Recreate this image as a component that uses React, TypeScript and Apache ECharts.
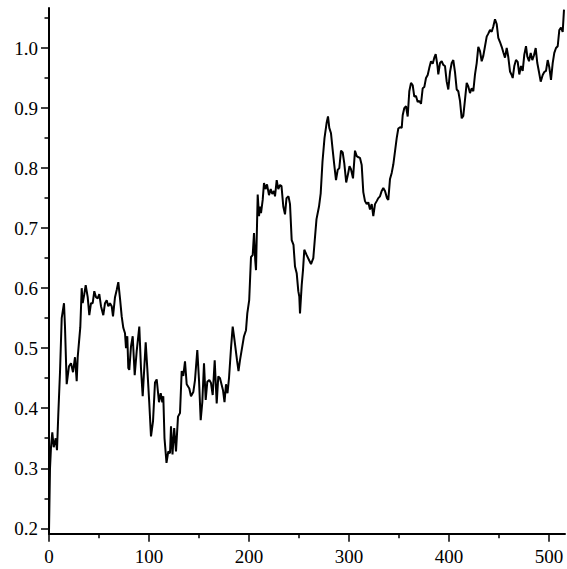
import React, { useEffect, useRef } from "react";
import * as echarts from "echarts";

const xs = [
  0, 1, 2, 3.3, 4.7, 6.7, 8, 9.3, 11, 12.7, 15, 16, 17.7, 20, 22, 24, 26, 27.7, 28.7, 30,
  31.3, 32.7, 33.7, 35.3, 36.7, 38.7, 40.3, 42, 43.7, 45.3, 47, 48.7, 50.3, 52, 54.3, 56, 57.7, 59.3, 61, 62.7,
  64, 66, 67.7, 69.3, 71, 72.7, 74.3, 76, 77, 78.3, 79.3, 80.3, 82, 83.7, 85.7, 87.7, 90.3, 92, 93.7, 96.7,
  98.3, 100.3, 102, 104, 106, 107.7, 110, 111.7, 113.3, 114.3, 115.5, 117.5, 119.3, 121, 122, 123.5, 125.2, 127, 129, 131,
  132.7, 134.3, 136, 137.7, 140.3, 142, 144.3, 146, 148.3, 150, 151.7, 153.3, 155, 156.7, 158.3, 160.3, 162, 163.7, 165.7, 167.7,
  169.3, 171, 172.5, 174, 175.5, 177, 178.5, 180, 182, 183.7, 185, 186.5, 188, 189.5, 191, 193, 195, 197, 198.3, 200.2,
  202, 203.7, 205, 206.2, 207, 208.7, 210, 211, 212, 213.7, 215, 216.5, 218, 220, 221.7, 223.3, 225, 226, 227.7, 229.3,
  231, 232.5, 234.3, 236, 237.5, 239.5, 241, 242.7, 244.5, 246, 247.7, 249.3, 250.3, 251, 252.7, 254, 255.3, 257.7, 260, 262,
  264.3, 266, 267.5, 270, 271.7, 273.5, 275.5, 277.7, 279, 280.3, 282, 283.7, 285.3, 287, 288.7, 290.3, 292, 293.7, 295.3, 297.2,
  299, 300.5, 302, 304, 306, 307.7, 309.5, 311, 312.7, 314.3, 316, 317.7, 319.3, 321, 322.7, 324.3, 326, 327.7, 329.3, 331,
  332.7, 334.3, 336, 338, 339.3, 341, 342.7, 344.3, 346, 347.7, 349.3, 351, 352.7, 353.7, 355.3, 357, 358.7, 360.3, 362, 363.7,
  365.3, 367, 368.7, 370.3, 372, 373.7, 375.3, 377, 378.7, 380.3, 382, 383.7, 385.3, 386.7, 388.5, 389.3, 391, 392.7, 394.3, 396,
  397.7, 399.3, 401, 402.7, 404.3, 406, 407.7, 409.3, 411, 412.7, 414.3, 416, 417.7, 419.3, 421, 422.7, 424.3, 426, 427.7, 429.3,
  431, 432.7, 434.3, 436, 437.7, 439.3, 441, 442.7, 444.3, 446, 447.7, 449.3, 451, 452.7, 454.3, 456, 457.7, 459.3, 461, 462.7,
  463.7, 465.3, 467, 468.7, 470.3, 472, 473.7, 475.3, 477, 478.3, 480, 481.7, 483.3, 485, 486.7, 488.3, 490, 491.7, 493.7, 495.3,
  497, 498.7, 500.3, 502, 503.7, 505.3, 507, 508.7, 510.3, 512, 513.7, 515,
];

const ys = [
  0.195, 0.30, 0.335, 0.36, 0.335, 0.35, 0.33, 0.39, 0.46, 0.55, 0.575, 0.535, 0.44, 0.47, 0.475, 0.46, 0.485, 0.445, 0.485, 0.51,
  0.535, 0.60, 0.575, 0.59, 0.605, 0.585, 0.555, 0.575, 0.575, 0.595, 0.585, 0.583, 0.59, 0.57, 0.555, 0.575, 0.58, 0.57, 0.575, 0.57,
  0.553, 0.585, 0.597, 0.61, 0.583, 0.553, 0.534, 0.525, 0.50, 0.52, 0.467, 0.464, 0.503, 0.52, 0.455, 0.495, 0.536, 0.466, 0.42, 0.51,
  0.466, 0.408, 0.353, 0.378, 0.443, 0.448, 0.41, 0.425, 0.41, 0.42, 0.35, 0.309, 0.328, 0.325, 0.37, 0.323, 0.367, 0.328, 0.386, 0.392,
  0.462, 0.454, 0.478, 0.44, 0.433, 0.42, 0.427, 0.447, 0.497, 0.447, 0.38, 0.41, 0.475, 0.414, 0.444, 0.447, 0.442, 0.422, 0.48, 0.408,
  0.453, 0.45, 0.44, 0.43, 0.41, 0.44, 0.425, 0.45, 0.50, 0.536, 0.52, 0.50, 0.48, 0.462, 0.48, 0.50, 0.52, 0.53, 0.558, 0.58,
  0.652, 0.655, 0.692, 0.647, 0.63, 0.756, 0.72, 0.736, 0.725, 0.747, 0.775, 0.765, 0.773, 0.755, 0.765, 0.757, 0.762, 0.753, 0.78, 0.765,
  0.772, 0.77, 0.736, 0.723, 0.75, 0.753, 0.74, 0.68, 0.672, 0.636, 0.625, 0.595, 0.586, 0.558, 0.605, 0.63, 0.664, 0.655, 0.647, 0.64,
  0.65, 0.685, 0.715, 0.736, 0.758, 0.811, 0.85, 0.876, 0.886, 0.867, 0.858, 0.83, 0.805, 0.78, 0.797, 0.8, 0.829, 0.826, 0.808, 0.776,
  0.79, 0.803, 0.798, 0.783, 0.829, 0.82, 0.818, 0.817, 0.805, 0.76, 0.745, 0.74, 0.743, 0.731, 0.74, 0.72, 0.74, 0.745, 0.75, 0.753,
  0.762, 0.767, 0.762, 0.75, 0.747, 0.782, 0.792, 0.806, 0.828, 0.85, 0.866, 0.868, 0.867, 0.888, 0.9, 0.903, 0.886, 0.928, 0.942, 0.938,
  0.919, 0.92, 0.91, 0.912, 0.907, 0.933, 0.935, 0.95, 0.955, 0.967, 0.978, 0.974, 0.984, 0.99, 0.97, 0.956, 0.975, 0.978, 0.972, 0.97,
  0.944, 0.931, 0.96, 0.975, 0.98, 0.96, 0.931, 0.928, 0.912, 0.883, 0.887, 0.914, 0.942, 0.936, 0.925, 0.933, 0.928, 0.956, 0.975, 1.002,
  0.995, 0.978, 0.987, 1.003, 1.019, 1.024, 1.03, 1.027, 1.036, 1.048, 1.04, 1.017, 1.01, 1.002, 0.993, 0.984, 1.0, 0.985, 0.961, 0.955,
  0.95, 0.97, 0.98, 0.977, 0.956, 0.97, 0.962, 0.989, 1.003, 0.986, 0.978, 0.992, 0.98, 0.988, 1.0, 0.975, 0.96, 0.944, 0.955, 0.96,
  0.962, 0.98, 0.968, 0.947, 0.975, 0.992, 1.0, 1.003, 1.03, 1.034, 1.027, 1.064,
];

const xMajorTicks = [0, 100, 200, 300, 400, 500];
const xMinorTicks = [50, 150, 250, 350, 450];
const yMajorTicks = [0.2, 0.3, 0.4, 0.5, 0.6, 0.7, 0.8, 0.9, 1.0];
const yMinorTicks = [0.25, 0.35, 0.45, 0.55, 0.65, 0.75, 0.85, 0.95, 1.05];

const X_MIN = 0;
const X_MAX = 516;
const Y_MIN = 0.191;
const Y_MAX = 1.0667;

export default function App() {
  const ref = useRef<HTMLDivElement>(null);
  useEffect(() => {
    if (!ref.current) return;
    const chart = echarts.init(ref.current, null, { renderer: "svg" });
    const font = "'Liberation Serif', 'Times New Roman', serif";
    const data = xs.map((x, i) => [x, ys[i]]);
    const fmtY = (v: number) => v.toFixed(1);
    chart.setOption({
      animation: false,
      backgroundColor: "#ffffff",
      grid: { left: 49, right: 2, top: 8, bottom: 35.3, containLabel: false },
      xAxis: [
        {
          type: "value",
          min: X_MIN,
          max: X_MAX,
          position: "bottom",
          axisLine: { show: true, lineStyle: { color: "#000", width: 2 } },
          axisTick: { show: true, length: 8, customValues: xMajorTicks, lineStyle: { color: "#000", width: 1.5 } },
          axisLabel: {
            customValues: xMajorTicks,
            margin: 13,
            color: "#000",
            fontFamily: font,
            fontSize: 19,
          },
          splitLine: { show: false },
        },
        {
          type: "value",
          min: X_MIN,
          max: X_MAX,
          position: "bottom",
          axisLine: { show: false },
          axisTick: { show: true, length: 4.5, customValues: xMinorTicks, lineStyle: { color: "#000", width: 1.5 } },
          axisLabel: { show: false },
          splitLine: { show: false },
        },
      ],
      yAxis: [
        {
          type: "value",
          min: Y_MIN,
          max: Y_MAX,
          position: "left",
          axisLine: { show: true, lineStyle: { color: "#000", width: 2 } },
          axisTick: { show: true, length: 8, customValues: yMajorTicks, lineStyle: { color: "#000", width: 1.5 } },
          axisLabel: {
            customValues: yMajorTicks,
            formatter: fmtY,
            margin: 11,
            color: "#000",
            fontFamily: font,
            fontSize: 19,
          },
          splitLine: { show: false },
        },
        {
          type: "value",
          min: Y_MIN,
          max: Y_MAX,
          position: "left",
          axisLine: { show: false },
          axisTick: { show: true, length: 4.5, customValues: yMinorTicks, lineStyle: { color: "#000", width: 1.5 } },
          axisLabel: { show: false },
          splitLine: { show: false },
        },
      ],
      series: [
        {
          type: "line",
          xAxisIndex: 0,
          yAxisIndex: 0,
          data,
          showSymbol: false,
          symbol: "none",
          lineStyle: { color: "#000", width: 2 },
          silent: true,
        },
      ],
    });
    return () => chart.dispose();
  }, []);
  return (
    <div
      ref={ref}
      style={{ position: "fixed", left: 0, top: 0, width: 567, height: 569, background: "#fff" }}
    />
  );
}
